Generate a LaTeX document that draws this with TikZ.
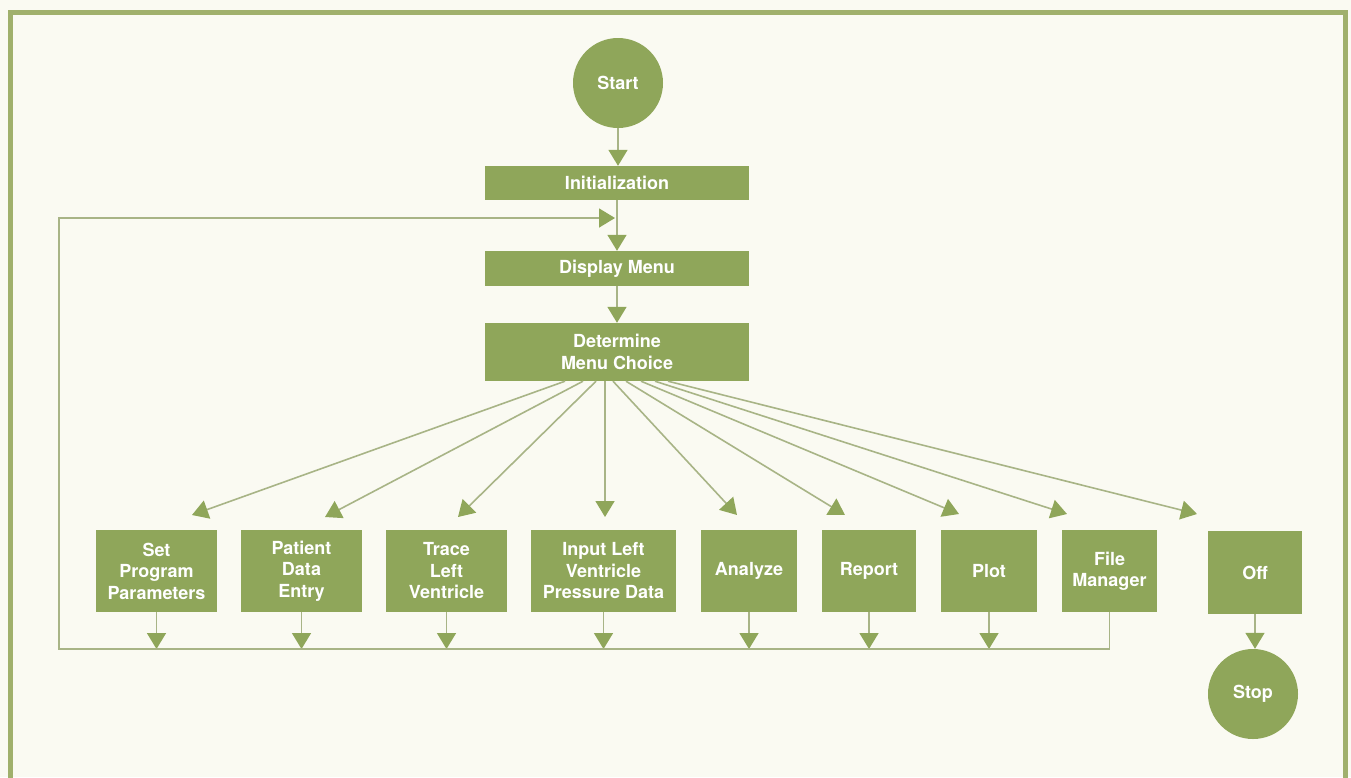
\documentclass[tikz,border=0pt]{standalone}
\usepackage{fontspec}
\setmainfont{TeX Gyre Heros}
\usetikzlibrary{arrows.meta}
\definecolor{boxC}{RGB}{143,166,90}
\definecolor{lineC}{RGB}{168,180,134}
\definecolor{frameC}{RGB}{160,176,108}
\definecolor{bgC}{RGB}{250,250,242}
\begin{document}
\begin{tikzpicture}[x=1pt,y=-1pt,
  box/.style={rectangle, fill=boxC, text=white, font=\bfseries\fontsize{18}{21.5}\selectfont, align=center, inner sep=0pt},
  term/.style={circle, fill=boxC, text=white, font=\bfseries\fontsize{18}{21.5}\selectfont, minimum size=90pt, inner sep=0pt},
  conn/.style={draw=lineC, line width=1.6pt, -{Triangle[length=16pt,width=19pt,color=boxC,fill=boxC]}},
  plain/.style={draw=lineC, line width=1.6pt}]
\useasboundingbox (0,0) rectangle (1351,777);
\fill[bgC] (0,0) rectangle (1351,777);
\draw[frameC, line width=5pt] (10.5,12.5) rectangle (1345.5,800);

\node[term] (start) at (618,83) {Start};
\node[box, minimum width=264pt, minimum height=34pt] (init) at (617,183) {Initialization};
\node[box, minimum width=264pt, minimum height=35pt] (disp) at (617,268.5) {Display Menu};
\node[box, minimum width=264pt, minimum height=58pt] (det) at (617,352) {Determine\\Menu Choice};

\node[box, minimum width=121pt, minimum height=82pt] (set) at (156.5,571) {Set\\Program\\Parameters};
\node[box, minimum width=121pt, minimum height=82pt] (pat) at (301.5,571) {Patient\\Data\\Entry};
\node[box, minimum width=121pt, minimum height=82pt] (trace) at (446.5,571) {Trace\\Left\\Ventricle};
\node[box, minimum width=145pt, minimum height=82pt] (input) at (603.5,571) {Input Left\\Ventricle\\Pressure Data};
\node[box, minimum width=96pt, minimum height=82pt] (ana) at (749,571) {Analyze};
\node[box, minimum width=94pt, minimum height=82pt] (rep) at (869,571) {Report};
\node[box, minimum width=96pt, minimum height=82pt] (plot) at (989,571) {Plot};
\node[box, minimum width=95pt, minimum height=82pt] (file) at (1109.5,571) {File\\Manager};
\node[box, minimum width=94pt, minimum height=83pt] (off) at (1255,572.5) {Off};
\node[term] (stop) at (1253,694) {Stop};

\coordinate (lb) at (59,649);
\coordinate (lt) at (59,218);
\coordinate (t1) at (192,515);
\coordinate (t2) at (325,517);
\coordinate (t3) at (458,517);
\coordinate (t4) at (605,517);
\coordinate (t5) at (737,515);
\coordinate (t6) at (845,515);
\coordinate (t7) at (959,514);
\coordinate (t8) at (1067,514);
\coordinate (t9) at (1197,514);

\draw[conn] (start.south) -- (start.south |- init.north);
\draw[conn] (init.south) -- (disp.north);
\draw[conn] (disp.south) -- (det.north);

\draw[conn] ([xshift=-52pt]det.south) -- (t1);
\draw[conn] ([xshift=-34pt]det.south) -- (t2);
\draw[conn] ([xshift=-21pt]det.south) -- (t3);
\draw[conn] ([xshift=-12pt]det.south) -- (t4);
\draw[conn] ([xshift=-4pt]det.south) -- (t5);
\draw[conn] ([xshift=9pt]det.south) -- (t6);
\draw[conn] ([xshift=24pt]det.south) -- (t7);
\draw[conn] ([xshift=38pt]det.south) -- (t8);
\draw[conn] ([xshift=51pt]det.south) -- (t9);

\draw[conn] (set.south) -- (set.south |- lb);
\draw[conn] (pat.south) -- (pat.south |- lb);
\draw[conn] (trace.south) -- (trace.south |- lb);
\draw[conn] (input.south) -- (input.south |- lb);
\draw[conn] (ana.south) -- (ana.south |- lb);
\draw[conn] (rep.south) -- (rep.south |- lb);
\draw[conn] (plot.south) -- (plot.south |- lb);
\draw[conn] (file.south) |- (lb) -- (lt) -- ([xshift=-2pt]init.south |- lt);
\draw[conn] (off.south) -- (off.south |- stop.north);
\end{tikzpicture}
\end{document}
